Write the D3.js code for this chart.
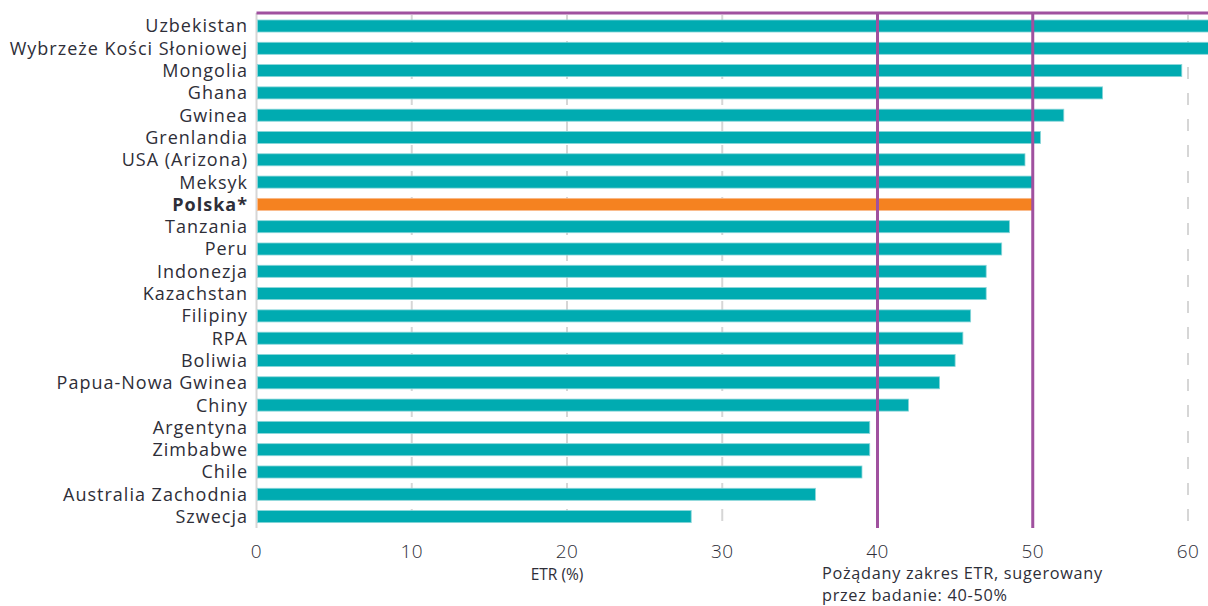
<!DOCTYPE html>
<html><head><meta charset="utf-8">
<script src="https://cdn.jsdelivr.net/npm/d3@7"></script>
<style>
html,body{margin:0;padding:0;background:#fff;}
svg{display:block;}
</style></head>
<body>
<svg id="chart" width="1208" height="606"></svg>
<script>
const categories = ["Uzbekistan","Wybrzeże Kości Słoniowej","Mongolia","Ghana","Gwinea","Grenlandia","USA (Arizona)","Meksyk","Polska*","Tanzania","Peru","Indonezja","Kazachstan","Filipiny","RPA","Boliwia","Papua-Nowa Gwinea","Chiny","Argentyna","Zimbabwe","Chile","Australia Zachodnia","Szwecja"];
const values = [65,63,59.6,54.5,52,50.5,49.5,50,50,48.5,48,47,47,46,45.5,45,44,42,39.5,39.5,39,36,28];
const highlight = "Polska*";
const ticks = [0,10,20,30,40,50,60];
const rangeBounds = [40,50];
const xTitle = "ETR (%)";
const note = ["Pożądany zakres ETR, sugerowany","przez badanie: 40-50%"];

const svg = d3.select("#chart");
const W = 1208;
const plotTop = 13, plotBottom = 528;
const x = d3.scaleLinear().domain([0,60]).range([256.5,1188]);
const y = d3.scaleBand().domain(categories).range([14.85,527.75]).paddingInner(0.46).paddingOuter(0.23);

const teal = "#00abb1", orange = "#f58220", purple = "#a0519f";
const txt = "#2e2e38";
const font = "Open Sans, Liberation Sans, Arial, sans-serif";

// gridlines
svg.append("g").selectAll("line").data(ticks.filter(t=>t>0 && !rangeBounds.includes(t))).join("line")
  .attr("x1",d=>x(d)).attr("x2",d=>x(d)).attr("y1",plotTop+2).attr("y2",plotBottom)
  .attr("stroke","#d6d6d6").attr("stroke-width",2).attr("stroke-dasharray","12,14");
// axis baseline
svg.append("line").attr("x1",x(0)).attr("x2",x(0)).attr("y1",plotTop).attr("y2",plotBottom)
  .attr("stroke","#d6d6d6").attr("stroke-width",2);

// bars
svg.append("g").selectAll("rect").data(categories).join("rect")
  .attr("x",x(0)+1).attr("y",d=>y(d))
  .attr("width",(d,i)=>Math.max(0,x(values[i])-x(0)-1))
  .attr("height",y.bandwidth())
  .attr("fill",d=>d===highlight?orange:teal)
  .attr("stroke",d=>d===highlight?"#f9b98a":"#8ad6d9").attr("stroke-width",0.8);

// purple range lines
svg.append("line").attr("x1",x(0)).attr("x2",W).attr("y1",plotTop).attr("y2",plotTop)
  .attr("stroke",purple).attr("stroke-width",3);
svg.append("g").selectAll("line").data(rangeBounds).join("line")
  .attr("x1",d=>x(d)).attr("x2",d=>x(d)).attr("y1",plotTop).attr("y2",plotBottom)
  .attr("stroke",purple).attr("stroke-width",3);

// category labels
svg.append("g").selectAll("text").data(categories).join("text")
  .attr("x",248).attr("y",d=>y(d)+y.bandwidth()/2).attr("dy","0.36em")
  .attr("text-anchor","end")
  .attr("font-family",font)
  .attr("font-size",18)
  .attr("letter-spacing",1)
  .attr("font-weight",d=>d===highlight?"bold":"normal")
  .attr("fill",txt).text(d=>d);

// x tick labels
svg.append("g").selectAll("text").data(ticks).join("text")
  .attr("x",d=>x(d)).attr("y",558).attr("text-anchor","middle")
  .attr("font-family",font).attr("font-weight",300)
  .attr("font-size",19).attr("letter-spacing",0.5).attr("fill",txt).text(d=>d);

svg.append("text").attr("x",557).attr("y",580).attr("text-anchor","middle")
  .attr("font-family",font).attr("font-size",15.5)
  .attr("fill",txt).text(xTitle);

svg.append("g").selectAll("text").data(note).join("text")
  .attr("x",822).attr("y",(d,i)=>578.5+i*22)
  .attr("font-family",font).attr("font-size",16.3).attr("letter-spacing",0.7)
  .attr("fill",txt).text(d=>d);
</script>
</body></html>
